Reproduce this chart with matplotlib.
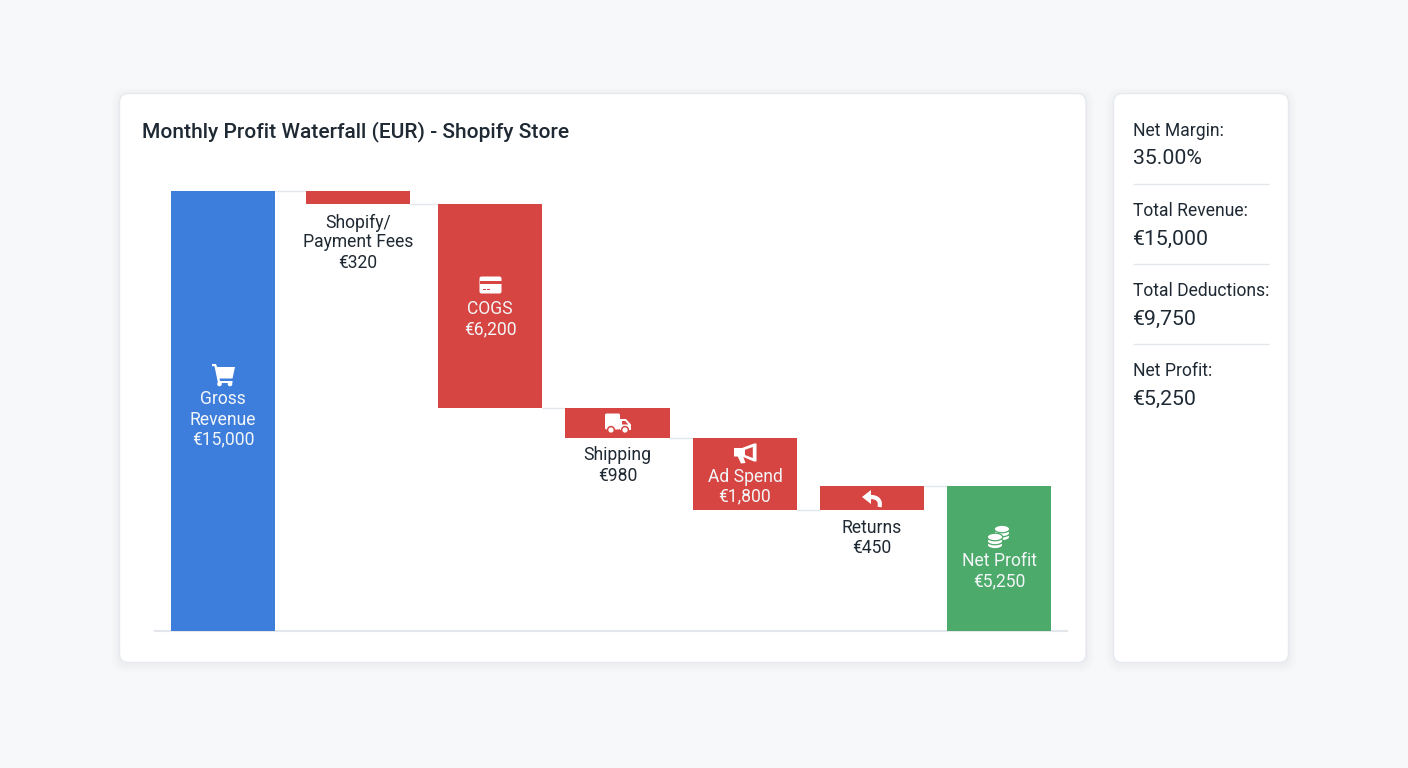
import matplotlib
matplotlib.use("Agg")
import matplotlib.pyplot as plt
from matplotlib.patches import FancyBboxPatch, Polygon, Circle, Ellipse, PathPatch, Rectangle
from matplotlib.path import Path

plt.rcParams['font.family'] = ['Roboto', 'DejaVu Sans']

# ---------- data ----------
title = "Monthly Profit Waterfall (EUR) - Shopify Store"
categories = ["Gross\nRevenue", "Shopify/\nPayment Fees", "COGS", "Shipping", "Ad Spend", "Returns", "Net Profit"]
amount_labels = ["€15,000", "€320", "€6,200", "€980", "€1,800", "€450", "€5,250"]
bar_tops = [15000, 15000, 14557, 7602, 6580, 4943, 4943]
bar_bottoms = [0, 14557, 7602, 6580, 4125, 4125, 0]
bar_kinds = ["total", "cost", "cost", "cost", "cost", "cost", "profit"]
label_inside = [True, False, True, False, True, False, True]
# level of connector following each bar
connector_levels = [15000, 14557, 7602, 6580, 4125, 4943]
stat_names = ["Net Margin:", "Total Revenue:", "Total Deductions:", "Net Profit:"]
stat_values = ["35.00%", "€15,000", "€9,750", "€5,250"]

# ---------- layout ----------
W, H = 1408, 768
BLUE, RED, GREEN = "#3d7ddc", "#d64541", "#4caa6a"
KIND_COLORS = {"total": BLUE, "cost": RED, "profit": GREEN}
DARK = "#1f2933"
ON_BAR = "#f3f6f8"
LINE = "#e3e6eb"
x_centers = [223, 358, 490, 617.5, 745, 872, 999]
BAR_W = 104.5
label_baselines = [[404, 425, 444.5], [227.5, 247, 268], [314, 334], [460.5, 481],
                   [482, 501.5], [533, 553], [566, 586.5]]
LABEL_FS = 12.65

fig = plt.figure(figsize=(W / 100, H / 100), dpi=100, facecolor="#f6f8fa")

bg = fig.add_axes([0, 0, 1, 1], zorder=0)
bg.set_xlim(0, W); bg.set_ylim(H, 0); bg.axis("off")

def card(x0, y0, x1, y1):
    for grow, a in [(8, 0.006), (6, 0.007), (4, 0.009), (2, 0.012)]:
        bg.add_patch(FancyBboxPatch((x0 - grow, y0 - grow + 2), x1 - x0 + 2 * grow, y1 - y0 + 2 * grow,
                                    boxstyle="round,pad=0,rounding_size=%g" % (9 + grow),
                                    fc="#33475b", ec="none", alpha=a))
    bg.add_patch(FancyBboxPatch((x0, y0), x1 - x0, y1 - y0, boxstyle="round,pad=0,rounding_size=9",
                                fc="white", ec="#e6e9ee", lw=1))

card(119.5, 93.5, 1086, 662.5)
card(1113.5, 93.5, 1288.5, 662.5)

# ---------- chart ----------
ax = fig.add_axes([155 / W, 1 - 631 / H, (1067 - 155) / W, (631 - 191) / H], zorder=1)
ax.patch.set_alpha(0)
ax.set_xlim(155, 1067)
ax.set_ylim(0, 15000)
ax.axis("off")

ax.bar(x_centers, [t - b for t, b in zip(bar_tops, bar_bottoms)], bottom=bar_bottoms, width=BAR_W,
       color=[KIND_COLORS[k] for k in bar_kinds], linewidth=0, zorder=3)
for i, lvl in enumerate(connector_levels):
    ax.plot([x_centers[i] + BAR_W / 2, x_centers[i + 1] - BAR_W / 2], [lvl, lvl],
            color=LINE, lw=1, zorder=2, clip_on=False, solid_capstyle="butt")
ax.plot([155, 1067], [0, 0], color=LINE, lw=1.5, zorder=2, clip_on=False)

# ---------- overlay: text and icons in pixel coordinates ----------
ov = fig.add_axes([0, 0, 1, 1], zorder=2)
ov.patch.set_alpha(0)
ov.set_xlim(0, W); ov.set_ylim(H, 0); ov.axis("off")

ov.text(142, 137.5, title, fontsize=15.15, fontweight="medium", color=DARK, va="baseline", ha="left")

for i, (cat, amt) in enumerate(zip(categories, amount_labels)):
    lines = cat.split("\n") + [amt]
    col = ON_BAR if label_inside[i] else DARK
    for ln, yb in zip(lines, label_baselines[i]):
        ov.text(x_centers[i], yb, ln, fontsize=LABEL_FS, color=col, ha="center", va="baseline")

W_ICON = "white"

def poly(pts, fc=W_ICON):
    ov.add_patch(Polygon(pts, closed=True, fc=fc, ec="none"))

# cart
poly([(212, 364), (216, 364), (217.2, 367), (235, 367), (232.5, 378.5), (219.5, 378.5), (220, 381),
      (232.5, 381), (232.5, 383), (218, 383), (214.5, 366.2), (212, 366.2)])
for cx in (219.5, 230):
    ov.add_patch(Circle((cx, 384), 2.3, fc=W_ICON, ec="none"))

# card
ov.add_patch(FancyBboxPatch((479.5, 276.5), 22, 17, boxstyle="round,pad=0,rounding_size=2", fc=W_ICON, ec="none"))
ov.add_patch(Rectangle((479.5, 281), 22, 3, fc=RED, ec="none"))
ov.add_patch(Rectangle((483, 288.6), 3.2, 1.4, fc=RED, ec="none"))
ov.add_patch(Rectangle((487.2, 288.6), 3.2, 1.4, fc=RED, ec="none"))

# truck
ov.add_patch(FancyBboxPatch((605, 413.5), 15, 16, boxstyle="round,pad=0,rounding_size=1.5", fc=W_ICON, ec="none"))
poly([(620, 419), (626, 419), (631, 424.5), (631, 430), (620, 430)])
poly([(622, 421), (625.2, 421), (628.3, 424.5), (622, 424.5)], fc=RED)
for cx in (611, 625):
    ov.add_patch(Circle((cx, 430), 3.4, fc=W_ICON, ec=RED, lw=1.1))

# megaphone
poly([(734, 448), (742, 448), (754, 443.5), (756.5, 443.5), (756.5, 461.5), (754, 461.5), (742, 456.5), (734, 456.5)])
poly([(745, 449.8), (752.8, 447), (752.8, 458), (745, 455)], fc=RED)
poly([(737.5, 456), (743, 456), (745.5, 463), (741, 463.5)])

# return arrow
poly([(862, 497), (871, 490), (871, 504)])
ov.add_patch(PathPatch(Path([(869, 497), (878, 496.5), (881, 501), (879.5, 507)],
                            [Path.MOVETO, Path.CURVE4, Path.CURVE4, Path.CURVE4]),
                       fc="none", ec=W_ICON, lw=3, capstyle="butt"))

# coins
for cx, cy in [(1002, 537), (1002, 533), (1002, 529), (995, 545), (995, 541), (995, 537)]:
    ov.add_patch(Ellipse((cx, cy), 15.5, 7.5, fc=W_ICON, ec=GREEN, lw=0.9))

# ---------- side panel ----------
for i, (name, val) in enumerate(zip(stat_names, stat_values)):
    off = 80 * i
    ov.text(1133, 135.5 + off, name, fontsize=12.65, color=DARK, ha="left", va="baseline")
    ov.text(1133, 164.5 + off, val, fontsize=15.3, color=DARK, ha="left", va="baseline")
    if i < len(stat_names) - 1:
        ov.plot([1133, 1269], [184 + off] * 2, color=LINE, lw=1, solid_capstyle="butt")

fig.savefig("out.png", dpi=100, facecolor=fig.get_facecolor())
